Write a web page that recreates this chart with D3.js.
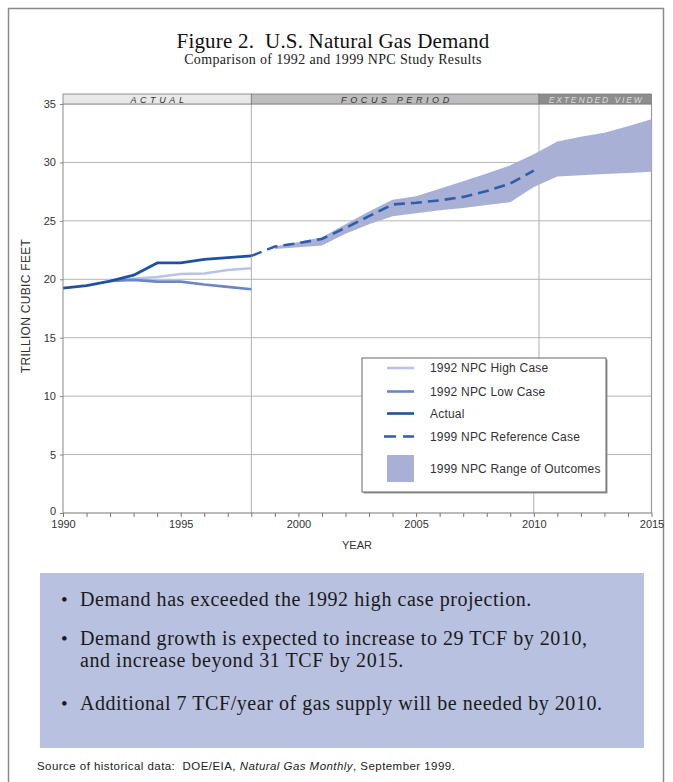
<!DOCTYPE html>
<html><head><meta charset="utf-8">
<script src="https://cdn.jsdelivr.net/npm/d3@7"></script>
<style>body{margin:0;background:#fff}svg{display:block}</style>
</head><body>
<script>
// ---- data ----
const actualYears = [1990,1991,1992,1993,1994,1995,1996,1997,1998];
const actualValues = [19.25,19.45,19.85,20.35,21.4,21.4,21.7,21.85,22.0];
const caseYears = [1992,1993,1994,1995,1996,1997,1998];
const highCase1992 = [19.85,20.05,20.2,20.45,20.5,20.8,20.95];
const lowCase1992 = [19.85,19.95,19.8,19.8,19.55,19.35,19.15];
const refYears = [1998,1999,2000,2001,2002,2003,2004,2005,2006,2007,2008,2009,2010];
const refCase1999 = [22.0,22.8,23.1,23.45,24.4,25.4,26.4,26.55,26.75,27.05,27.55,28.2,29.3];
const rangeYears = [1999,2000,2001,2002,2003,2004,2005,2006,2007,2008,2009,2010,2011,2012,2013,2014,2015];
const rangeHigh = [22.8,23.2,23.6,24.7,25.8,26.8,27.1,27.75,28.4,29.05,29.75,30.7,31.8,32.2,32.55,33.1,33.7];
const rangeLow = [22.6,22.75,22.9,23.9,24.7,25.4,25.65,25.9,26.1,26.35,26.6,27.9,28.8,28.9,29.0,29.1,29.2];
const yTicks = [0,5,10,15,20,25,30,35];
const xTickLabels = [1990,1995,2000,2005,2010,2015];
const periods = [
  {label:"ACTUAL", from:1990, to:1998},
  {label:"FOCUS PERIOD", from:1998, to:2010.22},
  {label:"EXTENDED VIEW", from:2010.22, to:2015}
];
const legendItems = ["1992 NPC High Case","1992 NPC Low Case","Actual","1999 NPC Reference Case","1999 NPC Range of Outcomes"];
const bullets = [
  ["Demand has exceeded the 1992 high case projection."],
  ["Demand growth is expected to increase to 29 TCF by 2010,","and increase beyond 31 TCF by 2015."],
  ["Additional 7 TCF/year of gas supply will be needed by 2010."]
];

// ---- layout ----
const W = 673, H = 782;
const svg = d3.select("body").append("svg").attr("width", W).attr("height", H);
const SERIF = "'Liberation Serif','Times New Roman',serif";
const SANS = "'Liberation Sans',Arial,sans-serif";
const C = {actual:"#1f51a2", ref:"#2d5dab", low:"#6b86c5", high:"#b9c4e4", range:"#a8b0d6", box:"#b9c1e0"};

svg.append("rect").attr("x",8.5).attr("y",8.5).attr("width",655).attr("height",800)
  .attr("fill","#fff").attr("stroke","#8a8a8a").attr("stroke-width",1.5);

svg.append("text").attr("x",333).attr("y",48).attr("text-anchor","middle")
  .attr("font-family",SERIF).attr("font-size",21).attr("letter-spacing",0.2).attr("fill","#111")
  .attr("xml:space","preserve").text("Figure 2.  U.S. Natural Gas Demand");
svg.append("text").attr("x",333).attr("y",64).attr("text-anchor","middle")
  .attr("font-family",SERIF).attr("font-size",14).attr("letter-spacing",0.35).attr("fill","#222")
  .text("Comparison of 1992 and 1999 NPC Study Results");

const x = d3.scaleLinear().domain([1990,2015]).range([63,651.5]);
const y = d3.scaleLinear().domain([0,35]).range([513,104]);

// gridlines
svg.append("g").selectAll("line").data(yTicks.filter(d=>d>0)).join("line")
  .attr("x1",x(1990)).attr("x2",x(2015)).attr("y1",d=>y(d)).attr("y2",d=>y(d))
  .attr("stroke","#b5b5b5").attr("stroke-width",1);

// vertical dividers
svg.append("line").attr("x1",x(1998)).attr("x2",x(1998)).attr("y1",94).attr("y2",y(0))
  .attr("stroke","#b0b0b0");
svg.append("line").attr("x1",x(2010.22)).attr("x2",x(2010.22)).attr("y1",94).attr("y2",358)
  .attr("stroke","#b0b0b0");
svg.append("line").attr("x1",x(2010)).attr("x2",x(2010)).attr("y1",490).attr("y2",y(0))
  .attr("stroke","#b0b0b0");
// right border
svg.append("line").attr("x1",x(2015)).attr("x2",x(2015)).attr("y1",y(35)).attr("y2",y(0))
  .attr("stroke","#9a9a9a").attr("stroke-width",1.2);

// range area
svg.append("path").datum(rangeYears.map((yr,i)=>({yr, lo:rangeLow[i], hi:rangeHigh[i]})))
  .attr("d", d3.area().x(d=>x(d.yr)).y0(d=>y(d.lo)).y1(d=>y(d.hi)))
  .attr("fill",C.range);

const line = d3.line().x(d=>x(d[0])).y(d=>y(d[1]));
svg.append("path").datum(caseYears.map((yr,i)=>[yr,highCase1992[i]])).attr("d",line)
  .attr("fill","none").attr("stroke",C.high).attr("stroke-width",2.6);
svg.append("path").datum(caseYears.map((yr,i)=>[yr,lowCase1992[i]])).attr("d",line)
  .attr("fill","none").attr("stroke",C.low).attr("stroke-width",2.6);
svg.append("path").datum(actualYears.map((yr,i)=>[yr,actualValues[i]])).attr("d",line)
  .attr("fill","none").attr("stroke",C.actual).attr("stroke-width",2.8).attr("stroke-linejoin","round");
svg.append("path").datum(refYears.map((yr,i)=>[yr,refCase1999[i]])).attr("d",line)
  .attr("fill","none").attr("stroke",C.ref).attr("stroke-width",2.6).attr("stroke-dasharray","11,6");

// period band
const band = svg.append("g");
const bandFill = ["#e8e8e8","#bdbdbd","#8d8d8d"];
const bandText = ["#333","#333","#dcdcdc"];
const bandSpacing = [3.6,3.6,1.9];
const bandSize = [9,9,8.5];
periods.forEach((p,i)=>{
  band.append("rect").attr("x",x(p.from)).attr("y",94).attr("width",x(p.to)-x(p.from)).attr("height",10)
    .attr("fill",bandFill[i]).attr("stroke","#7a7a7a").attr("stroke-width",0.8);
  band.append("text").attr("x",(x(p.from)+x(p.to))/2 + bandSpacing[i]/2).attr("y",102.5).attr("text-anchor","middle")
    .attr("font-family",SANS).attr("font-size",bandSize[i]).attr("font-style","italic")
    .attr("letter-spacing",bandSpacing[i]).attr("fill",bandText[i]).text(p.label);
});

// axes
svg.append("line").attr("x1",x(1990)).attr("x2",x(1990)).attr("y1",y(35)).attr("y2",y(0)).attr("stroke","#888");
svg.append("line").attr("x1",x(1990)).attr("x2",x(2015)).attr("y1",y(0)).attr("y2",y(0)).attr("stroke","#777");
const yAxis = svg.append("g").attr("transform",`translate(${x(1990)},0)`)
  .call(d3.axisLeft(y).tickValues(yTicks).tickSize(3).tickPadding(4));
yAxis.select(".domain").remove();
yAxis.selectAll("line").attr("stroke","#888");
yAxis.selectAll("text").attr("font-family",SANS).attr("font-size",11).attr("fill","#333")
  .attr("dy", d => d === 0 ? "0.1em" : "0.32em");

const xAxis = svg.append("g").attr("transform",`translate(0,${y(0)})`)
  .call(d3.axisBottom(x).tickValues(d3.range(1990,2016)).tickSize(4).tickPadding(3)
    .tickFormat(d=> xTickLabels.includes(d) ? String(d) : ""));
xAxis.select(".domain").remove();
xAxis.selectAll("line").attr("stroke","#777");
xAxis.selectAll("text").attr("font-family",SANS).attr("font-size",11).attr("fill","#333");

svg.append("text").attr("x",357).attr("y",549).attr("text-anchor","middle")
  .attr("font-family",SANS).attr("font-size",11).attr("fill","#333").text("YEAR");
svg.append("text").attr("transform","translate(30,306) rotate(-90)").attr("text-anchor","middle")
  .attr("font-family",SANS).attr("font-size",12).attr("letter-spacing",0.3).attr("fill","#333").text("TRILLION CUBIC FEET");

// legend
const lg = svg.append("g");
lg.append("rect").attr("x",363.5).attr("y",359.5).attr("width",244).attr("height",134).attr("fill","#9a9a9a");
lg.append("rect").attr("x",362).attr("y",358).attr("width",244).attr("height",134)
  .attr("fill","#fff").attr("stroke","#666").attr("stroke-width",1);
const ly = [368,391.5,413.5,436.5,468.5];
const lcol = [C.high,C.low,C.actual,C.ref];
legendItems.forEach((t,i)=>{
  if(i<4){
    lg.append("line").attr("x1",i===3?384:387).attr("x2",414).attr("y1",ly[i]).attr("y2",ly[i])
      .attr("stroke",lcol[i]).attr("stroke-width",2.6)
      .attr("stroke-dasharray", i===3?"12,7":null);
  } else {
    lg.append("rect").attr("x",387).attr("y",455).attr("width",27).attr("height",27).attr("fill",C.range);
  }
  lg.append("text").attr("x",430).attr("y",ly[i]+4).attr("font-family",SANS).attr("font-size",12)
    .attr("letter-spacing",0.2).attr("fill","#333").text(t);
});

// note box
svg.append("rect").attr("x",40).attr("y",573).attr("width",604).attr("height",175).attr("fill",C.box);
const by = [[606],[645,667],[710]];
bullets.forEach((lines,i)=>{
  svg.append("text").attr("x",61).attr("y",by[i][0]).attr("font-family",SERIF).attr("font-size",19)
    .attr("fill","#1a1a1a").text("•");
  lines.forEach((ln,j)=>{
    svg.append("text").attr("x",80).attr("y",by[i][j]).attr("font-family",SERIF).attr("font-size",20)
      .attr("letter-spacing",0.55).attr("fill","#1a1a1a").text(ln);
  });
});

const src = svg.append("text").attr("x",37).attr("y",770).attr("font-family",SANS).attr("font-size",11.5)
  .attr("letter-spacing",0.45).attr("fill","#222");
src.append("tspan").attr("xml:space","preserve").text("Source of historical data:  DOE/EIA, ");
src.append("tspan").attr("font-style","italic").text("Natural Gas Monthly");
src.append("tspan").text(", September 1999.");
</script>
</body></html>
